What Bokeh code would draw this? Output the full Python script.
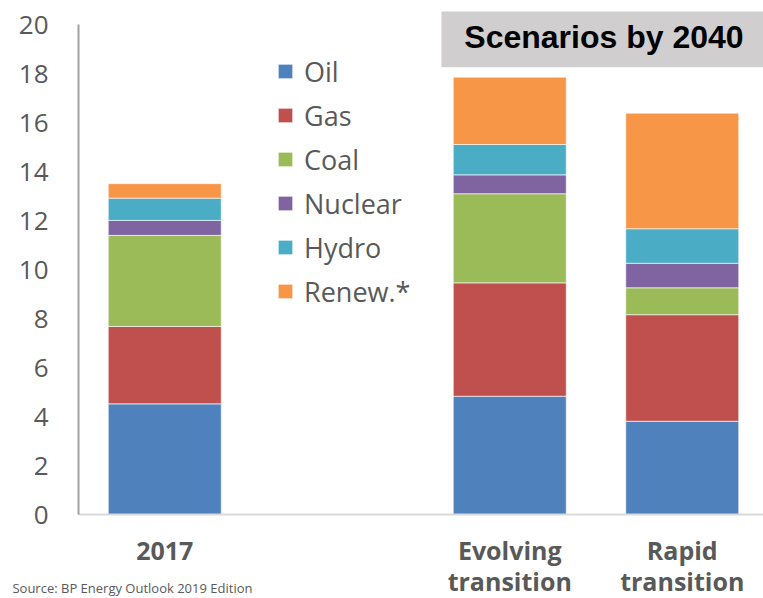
from bokeh.plotting import figure
from bokeh.models import (Range1d, FixedTicker, Legend, LegendItem, Label,
                          BoxAnnotation, ColumnDataSource)
from bokeh.embed import file_html
from bokeh.resources import INLINE

# ---- data ----
categories = ["2017", "Evolving\ntransition", "Rapid\ntransition"]
fuels = ["Oil", "Gas", "Coal", "Nuclear", "Hydro", "Renew.*"]
oil = [4.53, 4.84, 3.82]
gas = [3.16, 4.63, 4.35]
coal = [3.72, 3.64, 1.10]
nuclear = [0.61, 0.77, 1.00]
hydro = [0.91, 1.24, 1.41]
renew = [0.59, 2.75, 4.72]
y_ticks = [0, 2, 4, 6, 8, 10, 12, 14, 16, 18, 20]
title_text = "Scenarios by 2040"
source_text = "Source: BP Energy Outlook 2019 Edition"

colors = ["#4F81BD", "#C0504D", "#9BBB59", "#8064A2", "#4BACC6", "#F79646"]
TXT = "#595959"

# slot layout: 2017, empty slot, two scenarios
xpos = [0.5, 2.5, 3.5]
keys = ["oil", "gas", "coal", "nuclear", "hydro", "renew"]
src = ColumnDataSource(dict(x=xpos, oil=oil, gas=gas, coal=coal,
                            nuclear=nuclear, hydro=hydro, renew=renew))

X0, X1 = -0.4522, 3.9710
Y0, Y1 = -3.418, 21.0
p = figure(width=763, height=598, output_backend="svg", toolbar_location=None,
           x_range=Range1d(X0, X1), y_range=Range1d(Y0, Y1),
           min_border_left=0, min_border_right=0, min_border_top=0,
           min_border_bottom=0)
p.outline_line_color = None
p.grid.visible = False
p.background_fill_color = "white"

rs = p.vbar_stack(keys, x="x", width=0.655, source=src, color=colors,
                  line_color="white", line_alpha=0.6, line_width=1)

# y axis (placed at x = 0 inside the frame)
ya = p.yaxis[0]
ya.fixed_location = 0
ya.ticker = FixedTicker(ticks=y_ticks)
ya.bounds = (0, 20)
ya.axis_line_color = "#a0a0a0"
ya.axis_line_width = 2
ya.major_tick_in = 0
ya.major_tick_out = 0
ya.minor_tick_in = 0
ya.minor_tick_out = 0
ya.major_label_standoff = 30
ya.major_label_text_font = "Open Sans"
ya.major_label_text_font_size = "26px"
ya.major_label_text_color = TXT

# x axis (placed at y = 0 inside the frame)
xa = p.xaxis[0]
xa.fixed_location = 0
xa.ticker = FixedTicker(ticks=xpos)
xa.bounds = (0, X1)
xa.major_label_overrides = {x: c for x, c in zip(xpos, categories)}
xa.axis_line_color = "#d9d9d9"
xa.axis_line_width = 2
xa.major_tick_in = 0
xa.major_tick_out = 0
xa.minor_tick_in = 0
xa.minor_tick_out = 0
xa.major_label_standoff = 18
xa.major_label_text_font = "Open Sans"
xa.major_label_text_font_style = "bold"
xa.major_label_text_font_size = "25px"
xa.major_label_text_line_height = 0.92
xa.major_label_text_color = TXT

# legend
items = [LegendItem(label=f, renderers=[r]) for f, r in zip(fuels, rs)]
leg = Legend(items=items, location=(276, 288), glyph_width=18, glyph_height=18,
             label_height=38, spacing=6, padding=0, margin=0, label_standoff=10,
             label_text_font="Open Sans", label_text_font_size="27px",
             label_text_color=TXT, border_line_alpha=0,
             background_fill_alpha=0)
p.add_layout(leg)

# title box
box = BoxAnnotation(left=2.104, bottom=18.27, top=20.55,
                    fill_color="#D0CECE", fill_alpha=1, line_alpha=0)
p.add_layout(box)
p.add_layout(Label(x=3.046, y=19.51, text=title_text, text_align="center",
                   text_baseline="middle", text_font="Liberation Sans",
                   text_font_style="bold", text_font_size="32px",
                   text_color="black"))

# source
p.add_layout(Label(x=-0.383, y=-3.377, text=source_text, text_align="left",
                   text_baseline="bottom", text_font="Open Sans",
                   text_font_size="13px", text_color=TXT))

open("out.html", "w").write(file_html(p, INLINE))
